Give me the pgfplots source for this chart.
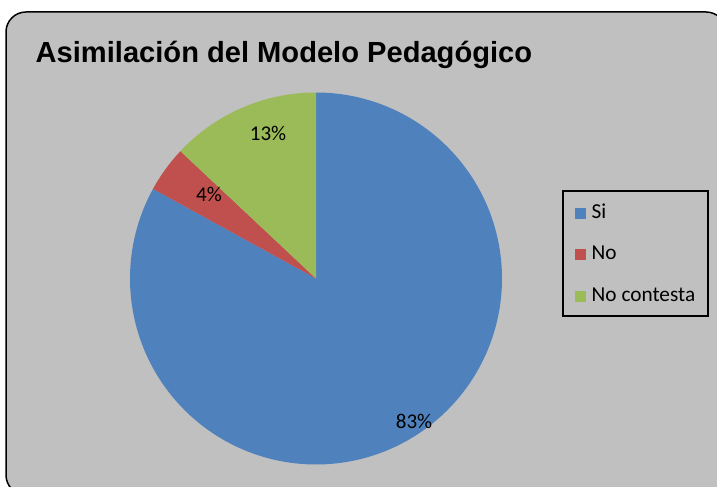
\documentclass[border=0pt]{standalone}
\usepackage{pgfplots}
\pgfplotsset{compat=1.18}
\usepackage{fontspec}
\setmainfont{Carlito}
\newfontfamily\titlefont{Liberation Sans}
\definecolor{bgc}{HTML}{C0C0C0}
\definecolor{csi}{HTML}{4F81BD}
\definecolor{cno}{HTML}{C0504D}
\definecolor{cnc}{HTML}{9BBB59}
% values (percent)
\def\vSi{83}
\def\vNo{4}
\def\vNC{13}
\pgfmathsetmacro\aA{90}
\pgfmathsetmacro\aB{90-3.6*\vSi}
\pgfmathsetmacro\aC{\aB-3.6*\vNo}
\pgfmathsetmacro\aD{\aC-3.6*\vNC}
\def\cx{316}
\def\cy{208.5}
\def\rr{186}
\begin{document}
\begin{tikzpicture}
\clip (0,0) rectangle (717bp,487bp);
\begin{axis}[
  scale only axis, width=717bp, height=487bp,
  xmin=0, xmax=717, ymin=0, ymax=487,
  hide axis, clip=false,
  legend style={draw=none, fill=none, at={(axis cs:575,283)}, anchor=north west,
    font=\fontsize{21.3bp}{24bp}\selectfont, row sep=23.5bp, inner sep=0pt,
    nodes={inner sep=0pt, text height=14bp, text depth=4bp}},
  legend cell align=left,
  legend image code/.code={\fill[#1,draw=none] (0bp,-5.5bp) rectangle (11bp,5.5bp);},
]
\draw[line width=1.5bp, rounded corners=20bp, fill=bgc] (axis cs:6,475) rectangle (axis cs:726,-8);
\addplot[fill=csi, draw=none, domain=\aB:\aA, samples=200, variable=\t]
  ({\cx+\rr*cos(\t)},{\cy+\rr*sin(\t)}) -- (axis cs:\cx,\cy) -- cycle;
\addlegendentry{\hspace{5.5bp}Si}
\addplot[fill=cno, draw=none, domain=\aC:\aB, samples=20, variable=\t]
  ({\cx+\rr*cos(\t)},{\cy+\rr*sin(\t)}) -- (axis cs:\cx,\cy) -- cycle;
\addlegendentry{\hspace{5.5bp}No}
\addplot[fill=cnc, draw=none, domain=\aD:\aC, samples=60, variable=\t]
  ({\cx+\rr*cos(\t)},{\cy+\rr*sin(\t)}) -- (axis cs:\cx,\cy) -- cycle;
\addlegendentry{\hspace{5.5bp}No contesta}
\draw[line width=1.2bp] (axis cs:563,296) rectangle (axis cs:708,171);
\node[font=\titlefont\bfseries\fontsize{29.1bp}{34bp}\selectfont, anchor=base west, inner sep=0pt] at (axis cs:35.5,424.7) {Asimilación del Modelo Pedagógico};
\begin{scope}[every node/.style={font=\fontsize{21bp}{24bp}\selectfont, inner sep=0pt}]
\node at (axis cs:268,354) {13\%};
\node at (axis cs:209,293) {4\%};
\node at (axis cs:414,65.5) {83\%};
\end{scope}
\end{axis}
\end{tikzpicture}
\end{document}
